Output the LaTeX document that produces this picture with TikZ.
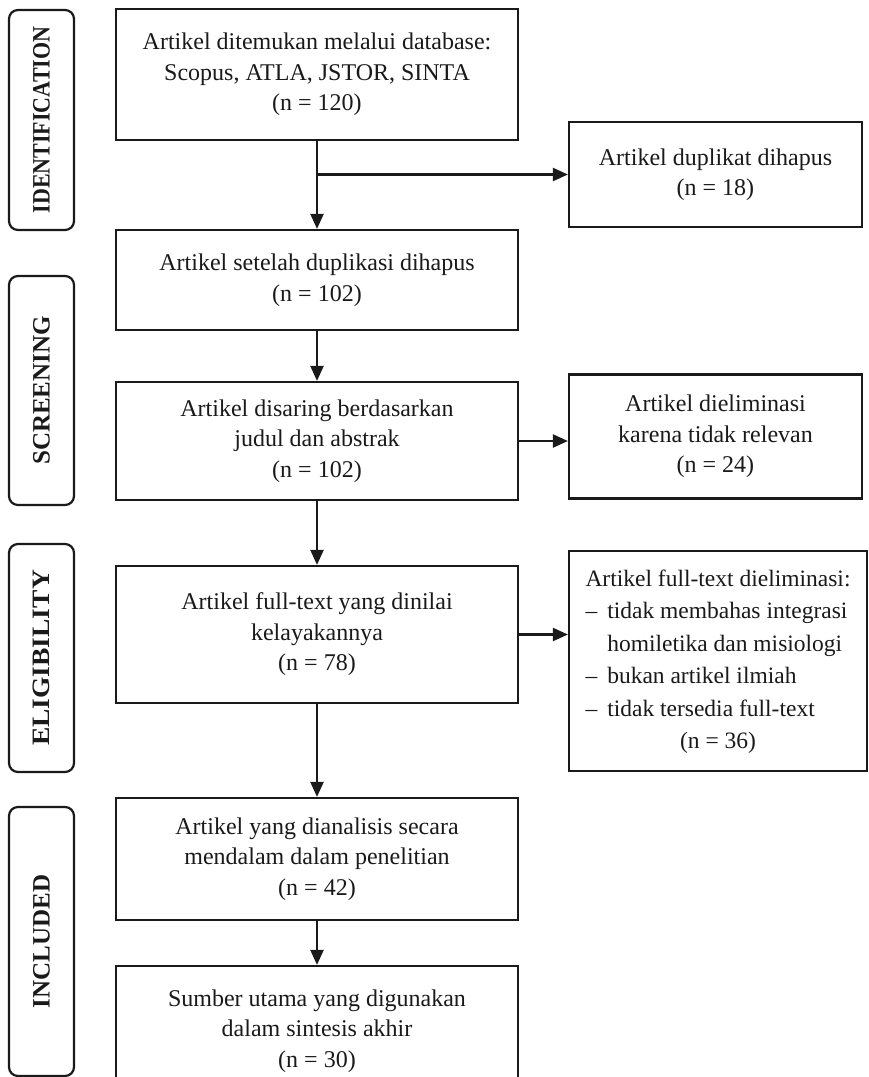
\documentclass[tikz,border=0pt]{standalone}
\usepackage{fontspec}
\setmainfont{Liberation Serif}
\usetikzlibrary{arrows.meta}
\definecolor{ink}{HTML}{1A1A1A}
\begin{document}
\begin{tikzpicture}[x=1pt,y=-1pt,
  box/.style={draw=ink, line width=2.2pt, inner sep=0pt, align=center, text=ink,
    font=\fontsize{24}{30.5}\selectfont},
  mainbox/.style={box, minimum width=402pt},
  sidebox/.style={box, minimum width=293pt},
  stage/.style={draw=ink, line width=2.2pt, rounded corners=9pt, rotate=90,
    minimum height=65pt, inner sep=0pt, text=ink,
    font=\fontsize{25}{30}\selectfont\bfseries},
  arr/.style={draw=ink, line width=2.2pt, -{Triangle[length=15pt,width=13pt]}}]
\useasboundingbox (0,0) rectangle (869,1077);
\clip (0,0) rectangle (869,1077);
\fill[white] (0,0) rectangle (869,1077);

% stage labels
\node[stage, minimum width=220pt] (sid) at (41.5,120) {\scalebox{0.88}[1]{IDENTIFICATION}};
\node[stage, minimum width=229pt] (sscr) at (41.5,390.5) {SCREENING};
\node[stage, minimum width=228pt] (selig) at (41.5,658) {\scalebox{1.1}[1]{ELIGIBILITY}};
\node[stage, minimum width=269pt] (sinc) at (41.5,941.5) {INCLUDED};

% main column
\node[mainbox, minimum height=131pt] (b1) at (317,74.5)
  {Artikel ditemukan melalui database:\\Scopus, ATLA, JSTOR, SINTA\\(n = 120)};
\node[mainbox, minimum height=100pt] (b2) at (317,280)
  {Artikel setelah duplikasi dihapus\\(n = 102)};
\node[mainbox, minimum height=118pt] (b3) at (317,441)
  {Artikel disaring berdasarkan\\judul dan abstrak\\(n = 102)};
\node[mainbox, minimum height=137pt] (b4) at (317,634.5)
  {Artikel full-text yang dinilai\\kelayakannya\\(n = 78)};
\node[mainbox, minimum height=122pt] (b5) at (317,859)
  {Artikel yang dianalisis secara\\mendalam dalam penelitian\\(n = 42)};
\node[mainbox, minimum height=130pt] (b6) at (317,1031)
  {Sumber utama yang digunakan\\dalam sintesis akhir\\(n = 30)};

% side column
\node[sidebox, minimum height=105pt] (dup) at (715.5,174.5)
  {Artikel duplikat dihapus\\(n = 18)};
\node[sidebox, minimum height=124pt] (elim) at (715.5,436.5)
  {Artikel dieliminasi\\karena tidak relevan\\(n = 24)};
\node[box, minimum width=298pt, minimum height=220pt,
  font=\fontsize{23.5}{32.5}\selectfont] (ft) at (718,661)
  {\begin{tabular}{@{}l@{\hspace{10pt}}l@{}}
   \multicolumn{2}{@{}l@{}}{Artikel full-text dieliminasi:}\\
   –&tidak membahas integrasi\\
   &homiletika dan misiologi\\
   –&bukan artikel ilmiah\\
   –&tidak tersedia full-text\\
   \multicolumn{2}{@{}c@{}}{(n = 36)}
   \end{tabular}};

% connectors
\coordinate (split) at (b1.south |- dup.west);
\draw[arr] (b1) -- (b2);
\draw[arr] (split) -- (dup.west);
\draw[arr] (b2) -- (b3);
\draw[arr] (b3) -- (b4);
\draw[arr] (b4) -- (b5);
\draw[arr] (b5) -- (b6);
\draw[arr] (b3.east) -- (b3.east -| elim.west);
\draw[arr] (b4.east) -- (b4.east -| ft.west);
\end{tikzpicture}
\end{document}
